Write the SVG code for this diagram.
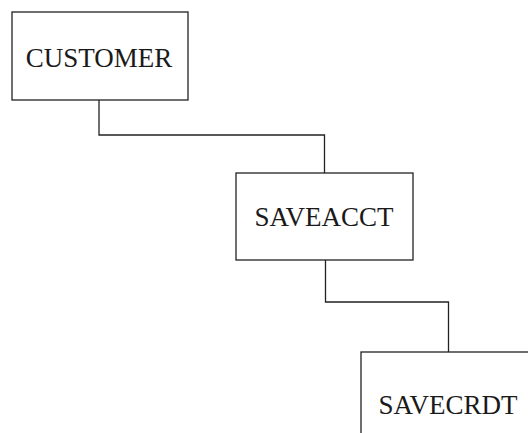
<svg xmlns="http://www.w3.org/2000/svg" width="528" height="433" viewBox="0 0 528 433">
  <style>
    .box { fill: #ffffff; stroke: #222222; stroke-width: 1.3; }
    .label { font-family: "Liberation Serif", "Times New Roman", serif; font-size: 27px; fill: #1a1a1a; text-anchor: middle; }
    .link { fill: none; stroke: #222222; stroke-width: 1.3; }
  </style>
  <rect width="528" height="433" fill="#ffffff"/>
  <g id="connectors">
    <polyline class="link" points="99,100 99,135 324.5,135 324.5,173"/>
    <polyline class="link" points="325.5,260 325.5,302 448.5,302 448.5,352"/>
  </g>
  <g id="customer">
    <rect class="box" x="12" y="12" width="176" height="88"/>
    <text class="label" x="99" y="66.5">CUSTOMER</text>
  </g>
  <g id="saveacct">
    <rect class="box" x="236" y="173" width="177" height="87"/>
    <text class="label" x="324" y="226">SAVEACCT</text>
  </g>
  <g id="savecrdt">
    <rect class="box" x="361" y="352" width="180" height="100"/>
    <text class="label" x="448" y="414">SAVECRDT</text>
  </g>
</svg>
